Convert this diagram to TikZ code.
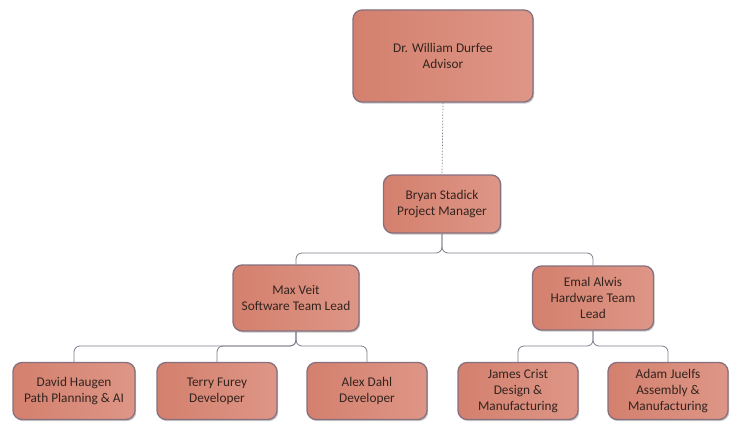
\documentclass[tikz,border=0pt]{standalone}
\usepackage{fontspec}
\setmainfont{Carlito}
\usetikzlibrary{shadows}
\definecolor{boxedge}{HTML}{86707F}
\definecolor{boxleft}{HTML}{D4806E}
\definecolor{boxright}{HTML}{DE9686}
\definecolor{inktext}{HTML}{33241F}
\definecolor{wire}{HTML}{7C7C8C}
\tikzset{
  person/.style={rectangle, rounded corners=9pt, draw=boxedge, line width=1.3pt,
    left color=boxleft, right color=boxright, align=center,
    font=\fontsize{13.3}{16}\selectfont, text=inktext,
    drop shadow={shadow xshift=1.2pt, shadow yshift=-1.6pt, opacity=0.35, fill=black!60},
    inner sep=0pt},
  wirebus/.style={draw=wire, line width=0.8pt, rounded corners=6pt},
  wiredash/.style={draw=wire, line width=0.7pt, dash pattern=on 1.5pt off 1.5pt}
}
\begin{document}
\begin{tikzpicture}[x=1pt, y=-1pt]
\useasboundingbox (0,0) rectangle (738,425);

% people
\node[person, minimum width=180pt, minimum height=92pt] (adv) at (443,56)
  {Dr. William Durfee\\Advisor};
\node[person, minimum width=117pt, minimum height=58pt] (pm) at (442,204)
  {Bryan Stadick\\Project Manager};
\node[person, minimum width=126pt, minimum height=66pt] (sw) at (296,298)
  {Max Veit\\Software Team Lead};
\node[person, minimum width=121pt, minimum height=64pt] (hw) at (593,298)
  {Emal Alwis\\Hardware Team\\Lead};
\node[person, minimum width=122pt, minimum height=57pt] (dh) at (74,391)
  {David Haugen\\Path Planning \& AI};
\node[person, minimum width=120pt, minimum height=57pt] (tf) at (217,391)
  {Terry Furey\\Developer};
\node[person, minimum width=120pt, minimum height=57pt] (ad) at (367,391)
  {Alex Dahl\\Developer};
\node[person, minimum width=120pt, minimum height=57pt] (jc) at (518,391)
  {James Crist\\Design \&\\Manufacturing};
\node[person, minimum width=120pt, minimum height=57pt] (aj) at (668,391)
  {Adam Juelfs\\Assembly \&\\Manufacturing};

% bus junctions
\coordinate (b1) at (442,253);
\coordinate (b2) at (296,346);
\coordinate (b3) at (593,346);

% connectors
\draw[wiredash] (adv.south) -- (pm.north);
\draw[wirebus] (sw.north) |- (b1) -- (pm.south);
\draw[wirebus] (hw.north) |- (b1) -- (pm.south);
\draw[wirebus] (dh.north) |- (b2) -- (sw.south);
\draw[wirebus] (tf.north) |- (b2) -- (sw.south);
\draw[wirebus] (ad.north) |- (b2) -- (sw.south);
\draw[wirebus] (jc.north) |- (b3) -- (hw.south);
\draw[wirebus] (aj.north) |- (b3) -- (hw.south);
\end{tikzpicture}
\end{document}
